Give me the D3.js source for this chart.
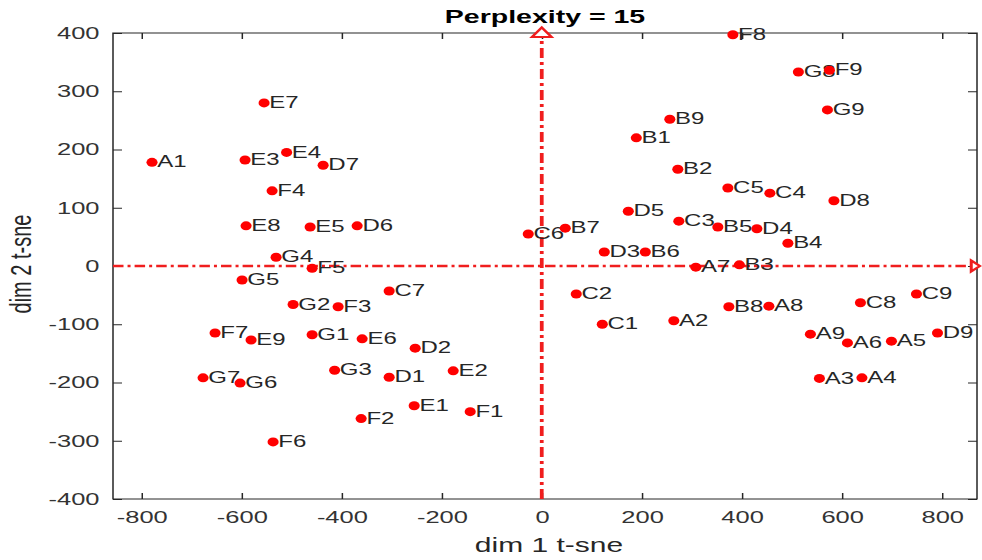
<!DOCTYPE html>
<html lang="en">
  <head>
    <meta charset="utf-8">
    <title>Perplexity = 15</title>
    <style type="text/css">
      body{
        margin: 0;
        background: #fff;
      }
      svg{
        display: block;
        font-family: "Liberation Sans", Arial, sans-serif;
      }
    </style>
    <script src="https://cdn.jsdelivr.net/npm/d3@7"></script>
  </head>
  <body>
    <div class="chart"></div>
    <script type="text/javascript">
      //point names and their t-sne coordinates
      var labels = ["A1","A2","A3","A4","A5","A6","A7","A8","A9",
                    "B1","B2","B3","B4","B5","B6","B7","B8","B9",
                    "C1","C2","C3","C4","C5","C6","C7","C8","C9",
                    "D1","D2","D3","D4","D5","D6","D7","D8","D9",
                    "E1","E2","E3","E4","E5","E6","E7","E8","E9",
                    "F1","F2","F3","F4","F5","F6","F7","F8","F9",
                    "G1","G2","G3","G4","G5","G6","G7","G8","G9"];

      var dim1 = [-779, 264, 555, 640, 699, 611, 308, 454, 537,
                  189, 272, 395, 492, 352, 207, 47, 374, 256,
                  121, 69, 274, 456, 372, -27, -305, 637, 749,
                  -305, -253, 125, 430, 173, -369, -437, 584, 791,
                  -255, -177, -593, -510, -463, -359, -555, -591, -581,
                  -143, -361, -407, -539, -459, -537, -653, 382, 575,
                  -459, -497, -414, -531, -599, -603, -677, 513, 571];

      var dim2 = [178, -94, -193, -192, -129, -132, -2, -69, -117,
                  220, 166, 2, 39, 67, 24, 65, -70, 252,
                  -100, -48, 77, 125, 134, 55, -43, -63, -48,
                  -191, -141, 24, 64, 94, 69, 173, 112, -115,
                  -240, -180, 182, 195, 67, -125, 280, 69, -127,
                  -250, -262, -70, 129, -4, -302, -115, 397, 336,
                  -118, -66, -179, 15, -24, -201, -192, 333, 268];

      //axis limits and tick labels
      var xLimits = [-857, 870];
      var yLimits = [-400, 400];
      var xTicks = [-800, -600, -400, -200, 0, 200, 400, 600, 800];
      var yTicks = [-400, -300, -200, -100, 0, 100, 200, 300, 400];

      //the reference picture is stretched sideways, so draw in a narrower
      //space and let the viewBox stretch it
      var SX = 1.5;
      var width = 982 / SX;
      var height = 560;
      var plot = {left: 113 / SX, right: 977 / SX, top: 33, bottom: 499};
      var ink = "#262626";

      var svg = d3.select(".chart")
        .append("svg")
        .attr("width", 982)
        .attr("height", height)
        .attr("viewBox", `0 0 ${width} ${height}`)
        .attr("preserveAspectRatio", "none");

      var x = d3.scaleLinear().domain(xLimits).range([plot.left, plot.right]);
      var y = d3.scaleLinear().domain(yLimits).range([plot.bottom, plot.top]);

      //axes with ticks pointing inwards on all four sides
      function styleAxis(g){
        g.attr("font-family", null).attr("font-size", null);
        g.select(".domain").remove();
        g.selectAll(".tick line").attr("stroke", ink);
        g.selectAll(".tick text").attr("fill", "#333").style("font-size", "17px");
      }

      svg.append("g")
        .attr("transform", `translate(0,${plot.bottom})`)
        .call(d3.axisBottom(x).tickValues(xTicks).tickSize(-6).tickPadding(12).tickFormat(d => String(d)))
        .call(styleAxis);

      svg.append("g")
        .attr("transform", `translate(0,${plot.top})`)
        .call(d3.axisTop(x).tickValues(xTicks).tickSize(-6).tickFormat(""))
        .call(styleAxis);

      svg.append("g")
        .attr("transform", `translate(${plot.left},0)`)
        .call(d3.axisLeft(y).tickValues(yTicks).tickSize(-6).tickPadding(9).tickFormat(d => String(d)))
        .call(styleAxis);

      svg.append("g")
        .attr("transform", `translate(${plot.right},0)`)
        .call(d3.axisRight(y).tickValues(yTicks).tickSize(-6).tickFormat(""))
        .call(styleAxis);

      //box round the plot
      svg.append("rect")
        .attr("x", plot.left)
        .attr("y", plot.top)
        .attr("width", plot.right - plot.left)
        .attr("height", plot.bottom - plot.top)
        .attr("fill", "none")
        .attr("stroke", ink)
        .attr("stroke-width", 1);

      //dash-dot origin lines with open arrow heads
      var x0 = x(0), y0 = y(0);
      var lineColor = "#f01e1e";

      svg.append("line")
        .attr("x1", plot.left).attr("x2", 647.5)
        .attr("y1", y0).attr("y2", y0)
        .attr("stroke", lineColor)
        .attr("stroke-width", 2.5)
        .attr("stroke-dasharray", "7,2.7,2,2.7");

      svg.append("line")
        .attr("x1", x0).attr("x2", x0)
        .attr("y1", plot.bottom).attr("y2", 37)
        .attr("stroke", lineColor)
        .attr("stroke-width", 2.5)
        .attr("stroke-dasharray", "10,4,3,4");

      svg.append("path")
        .attr("d", `M${x0 - 6.5},37L${x0},27.5L${x0 + 6.5},37Z`)
        .attr("fill", "#fff")
        .attr("stroke", lineColor)
        .attr("stroke-width", 2);

      svg.append("path")
        .attr("d", `M647.5,260.5L653.3,${y0}L647.5,271.5Z`)
        .attr("fill", "#fff")
        .attr("stroke", lineColor)
        .attr("stroke-width", 2);

      //point labels first, the dots sit on top of them
      var points = labels.map((l, i) => ({name: l, d1: dim1[i], d2: dim2[i]}));

      svg.selectAll(".label")
        .data(points)
        .enter()
        .append("text")
        .attr("class", "label")
        .attr("x", d => x(d.d1) + 3.5)
        .attr("y", d => y(d.d2))
        .attr("dy", "0.32em")
        .attr("fill", ink)
        .style("font-size", "16px")
        .text(d => d.name);

      svg.selectAll(".dot")
        .data(points)
        .enter()
        .append("ellipse")
        .attr("class", "dot")
        .attr("cx", d => x(d.d1))
        .attr("cy", d => y(d.d2))
        .attr("rx", 3.7)
        .attr("ry", 4.5)
        .attr("fill", "#f00");

      //title and axis labels
      svg.append("text")
        .attr("x", 545 / SX)
        .attr("y", 23)
        .attr("text-anchor", "middle")
        .attr("fill", "#000")
        .style("font-size", "19px")
        .style("font-weight", "bold")
        .text("Perplexity = 15");

      svg.append("text")
        .attr("x", 549 / SX)
        .attr("y", 552)
        .attr("text-anchor", "middle")
        .attr("fill", ink)
        .style("font-size", "20px")
        .text("dim 1 t-sne");

      svg.append("text")
        .attr("transform", `translate(${31 / SX},264) rotate(-90)`)
        .attr("text-anchor", "middle")
        .attr("fill", ink)
        .style("font-size", "20px")
        .text("dim 2 t-sne");
    </script>
  </body>
</html>
